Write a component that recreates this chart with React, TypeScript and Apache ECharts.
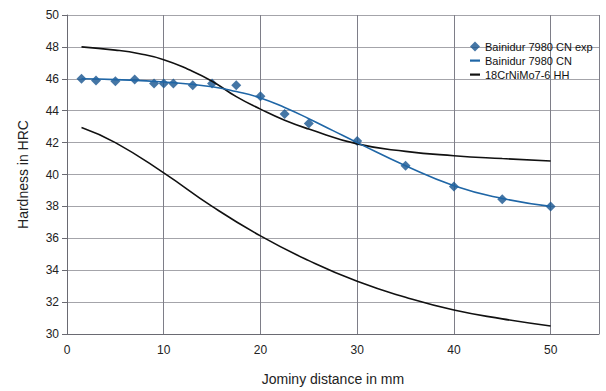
import React, { useEffect, useRef } from "react";
import * as echarts from "echarts";

const expX = [1.5, 3, 5, 7, 9, 10, 11, 13, 15, 17.5, 20, 22.5, 25, 30, 35, 40, 45, 50];
const expY = [46.0, 45.9, 45.85, 45.95, 45.7, 45.7, 45.7, 45.6, 45.7, 45.6, 44.9, 43.8, 43.2, 42.1, 40.55, 39.25, 38.45, 38.0];

const fitX = [1.5, 5, 10, 15, 17.5, 20, 22.5, 25, 27.5, 30, 35, 40, 45, 50];
const fitY = [46.0, 45.95, 45.8, 45.5, 45.2, 44.8, 44.2, 43.5, 42.75, 42.0, 40.55, 39.3, 38.5, 38.0];

const hhX = [1.5, 5, 7.5, 10, 12.5, 15, 17.5, 20, 22.5, 25, 30, 35, 40, 45, 50];
const hhMaxY = [48.0, 47.8, 47.57, 47.2, 46.6, 45.85, 44.88, 44.1, 43.4, 42.85, 41.92, 41.45, 41.18, 41.0, 40.85];
const hhMinX = [1.5, 5, 10, 15, 20, 25, 30, 35, 40, 45, 50];
const hhMinY = [42.95, 42.0, 40.1, 38.0, 36.15, 34.6, 33.3, 32.3, 31.5, 30.95, 30.5];

const nameExp = "Bainidur 7980 CN exp";
const nameFit = "Bainidur 7980 CN";
const nameHH = "18CrNiMo7-6 HH";

const zip = (xs: number[], ys: number[]) => xs.map((x, i) => [x, ys[i]]);

export default function App() {
  const ref = useRef<HTMLDivElement>(null);
  useEffect(() => {
    if (!ref.current) return;
    const chart = echarts.init(ref.current, null, { renderer: "svg" });
    const font = "'Liberation Sans', Arial, sans-serif";
    const lineIcon = "path://M0,0M0,10M0,4h10v2.2H0z";
    chart.setOption({
      animation: false,
      textStyle: { fontFamily: font },
      grid: { left: 67, right: 7, top: 15, bottom: 55 },
      legend: {
        orient: "vertical",
        left: 465,
        top: 36,
        itemWidth: 10,
        itemHeight: 10,
        itemGap: 3,
        textStyle: { fontSize: 11, color: "#111", fontFamily: font },
        data: [
          { name: nameExp, icon: "diamond" },
          { name: nameFit, icon: lineIcon },
          { name: nameHH, icon: lineIcon },
        ],
      },
      xAxis: {
        type: "value",
        min: 0,
        max: 55,
        interval: 10,
        name: "Jominy distance in mm",
        nameLocation: "middle",
        nameGap: 38,
        nameTextStyle: { fontSize: 14, color: "#222", fontFamily: font },
        axisLine: { lineStyle: { color: "#6a6a72", width: 1 } },
        axisTick: { show: false },
        axisLabel: {
          fontSize: 12,
          color: "#222",
          margin: 10,
          formatter: (v: number) => (v % 10 === 0 ? String(v) : ""),
        },
        splitLine: { show: true, lineStyle: { color: "#7e7e88", width: 1 } },
      },
      yAxis: {
        type: "value",
        min: 30,
        max: 50,
        interval: 2,
        name: "Hardness in HRC",
        nameLocation: "middle",
        nameGap: 37,
        nameTextStyle: { fontSize: 14, color: "#222", fontFamily: font },
        axisLine: { show: true, lineStyle: { color: "#6a6a72", width: 1 } },
        axisTick: { show: true, length: 5, lineStyle: { color: "#6a6a72" } },
        axisLabel: { fontSize: 12, color: "#222", margin: 8 },
        splitLine: { show: true, lineStyle: { color: "#a4a4aa", width: 1 } },
      },
      series: [
        {
          name: nameHH,
          type: "line",
          smooth: 0.5,
          symbol: "none",
          data: zip(hhX, hhMaxY),
          lineStyle: { color: "#111", width: 1.6 },
          itemStyle: { color: "#111" },
        },
        {
          name: nameHH,
          type: "line",
          smooth: 0.5,
          symbol: "none",
          data: zip(hhMinX, hhMinY),
          lineStyle: { color: "#111", width: 1.6 },
          itemStyle: { color: "#111" },
        },
        {
          name: nameFit,
          type: "line",
          smooth: 0.5,
          symbol: "none",
          data: zip(fitX, fitY),
          lineStyle: { color: "#1f66a6", width: 1.6 },
          itemStyle: { color: "#1f66a6" },
        },
        {
          name: nameExp,
          type: "scatter",
          symbol: "diamond",
          symbolSize: 10,
          data: zip(expX, expY),
          itemStyle: { color: "#17548e" },
        },
      ],
    });
    return () => chart.dispose();
  }, []);
  return <div ref={ref} style={{ width: 606, height: 391, position: "absolute", left: 0, top: 0 }} />;
}
